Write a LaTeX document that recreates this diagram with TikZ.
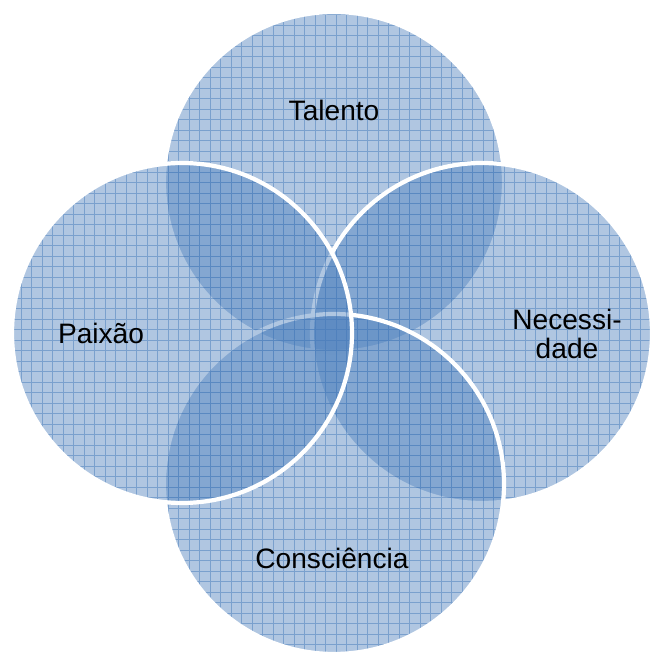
\documentclass[tikz,border=0pt]{standalone}
\usepackage{fontspec}
\setmainfont{Liberation Sans}
\definecolor{petalblue}{RGB}{79,129,189}

\begin{document}
\begin{tikzpicture}[x=0.02cm,y=0.02cm,
			petal/.style={fill=petalblue,fill opacity=0.45},
			gridline/.style={draw=petalblue,line width=0.45pt,draw opacity=0.55},
			rim/.style={draw=white,line width=2.4pt},
			txt/.style={font=\fontsize{16}{16.5}\selectfont,align=center}]
			\useasboundingbox (0,0) rectangle (650,655);
			\foreach \cx/\cy in {334/473, 482/322, 334/171, 182/322} {
				\begin{scope}
					\clip (\cx,\cy) circle (170);
					\fill[petal] (\cx,\cy) circle (170);
					\draw[gridline] (\cx-180,\cy-180) grid[step=10.5] (\cx+180,\cy+180);
				\end{scope}
				\draw[rim] (\cx,\cy) circle (170);
			}
			\node[txt] (talento) at (334,545) {Talento};
			\node[txt] (paixao) at (101,322) {Paixão};
			\node[txt] (necessidade) at (567,321) {Necessi-\\dade};
			\node[txt] (consciencia) at (332,97) {Consciência};
\end{tikzpicture}
\end{document}
